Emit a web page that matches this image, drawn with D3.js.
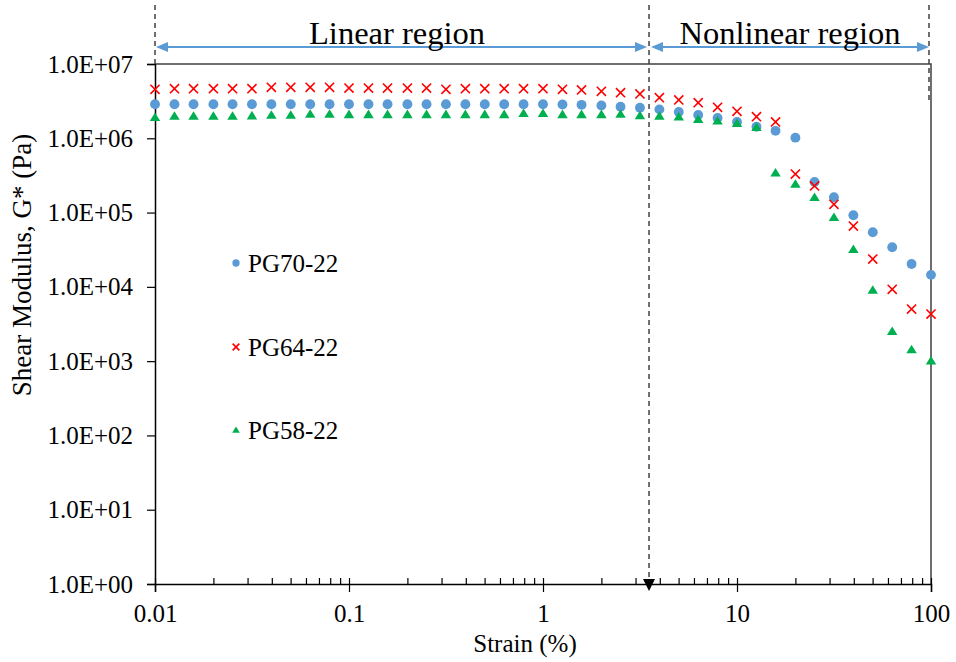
<!DOCTYPE html>
<html><head><meta charset="utf-8">
<script src="https://cdn.jsdelivr.net/npm/d3@7"></script>
<style>body{margin:0;background:#fff}svg{display:block}text{font-family:"Liberation Serif","Times New Roman",serif}</style>
</head><body><svg id="c" width="956" height="662"></svg>
<script>
const strain = [0.01,0.0126,0.0158,0.02,0.0251,0.0316,0.0398,0.0501,0.0631,0.0794,
 0.1,0.126,0.158,0.2,0.251,0.316,0.398,0.501,0.631,0.794,
 1,1.26,1.58,2,2.51,3.16,3.98,5.01,6.31,7.94,
 10,12.6,15.8,20,25.1,31.6,39.8,50.1,63.1,79.4,100];
const pg70 = [2.87e6,2.87e6,2.87e6,2.87e6,2.87e6,2.87e6,2.87e6,2.87e6,2.87e6,2.87e6,
 2.87e6,2.87e6,2.87e6,2.87e6,2.87e6,2.87e6,2.87e6,2.87e6,2.87e6,2.87e6,
 2.87e6,2.85e6,2.82e6,2.76e6,2.66e6,2.58e6,2.45e6,2.26e6,2.06e6,1.88e6,
 1.66e6,1.43e6,1.26e6,1.02e6,2.58e5,1.61e5,9.2e4,5.43e4,3.41e4,2.03e4,1.45e4];
const pg64 = [4.56e6,4.66e6,4.66e6,4.66e6,4.66e6,4.66e6,4.85e6,4.85e6,4.85e6,4.85e6,
 4.75e6,4.75e6,4.75e6,4.75e6,4.75e6,4.56e6,4.66e6,4.66e6,4.66e6,4.66e6,
 4.66e6,4.56e6,4.47e6,4.29e6,4.11e6,3.95e6,3.52e6,3.28e6,3.01e6,2.61e6,
 2.31e6,1.95e6,1.66e6,3.30e5,2.28e5,1.29e5,6.59e4,2.37e4,9.27e3,5.03e3,4.31e3];
const pg58 = [1.92e6,2.0e6,2.0e6,2.0e6,2.0e6,2.02e6,2.06e6,2.06e6,2.12e6,2.12e6,
 2.10e6,2.10e6,2.10e6,2.10e6,2.10e6,2.10e6,2.10e6,2.10e6,2.10e6,2.17e6,
 2.17e6,2.10e6,2.10e6,2.10e6,2.12e6,2.03e6,2.0e6,1.95e6,1.80e6,1.72e6,
 1.59e6,1.41e6,3.44e5,2.43e5,1.61e5,8.64e4,3.21e4,9.07e3,2.52e3,1.44e3,1.01e3];
const seriesNames = ["PG70-22","PG64-22","PG58-22"];
const seriesColors = ["#5B9BD5","#FF0000","#00B050"];
const xTicks = [0.01,0.1,1,10,100];
const xTickLabels = ["0.01","0.1","1","10","100"];
const yTicks = [1,10,100,1e3,1e4,1e5,1e6,1e7];
const yTickLabels = ["1.0E+00","1.0E+01","1.0E+02","1.0E+03","1.0E+04","1.0E+05","1.0E+06","1.0E+07"];
const regionBoundary = 3.52;
const regionLabels = ["Linear region","Nonlinear region"];

const svg = d3.select("#c");
const L=155,R=931,T=64,B=584;
const x = d3.scaleLog().domain([0.01,100]).range([L,R]);
const y = d3.scaleLog().domain([1,1e7]).range([B,T]);

// border top/right
svg.append("path").attr("d",`M${L},${T}H${R}V${B}`).attr("fill","none").attr("stroke","#404040").attr("stroke-width",1.5);

// y axis
const ya = svg.append("g").attr("transform",`translate(${L},0)`)
  .call(d3.axisLeft(y).tickValues(yTicks).tickFormat((d,i)=>yTickLabels[i]).tickSize(8).tickPadding(14));
ya.select(".domain").attr("stroke","#000").attr("stroke-width",1.5);
ya.selectAll(".tick line").attr("stroke","#000").attr("stroke-width",1.2);
ya.selectAll("text").attr("font-size",25).attr("fill","#000");

// x axis
const minor=[];
for(let d=0.01; d<100; d*=10){ for(let m=2;m<=9;m++) minor.push(d*m); }
const xm = svg.append("g").attr("transform",`translate(0,${B})`)
  .call(d3.axisBottom(x).tickValues(minor).tickFormat("").tickSizeInner(-6).tickSizeOuter(0));
xm.select(".domain").remove();
xm.selectAll(".tick line").attr("stroke","#000").attr("stroke-width",1.2);
const xa = svg.append("g").attr("transform",`translate(0,${B})`)
  .call(d3.axisBottom(x).tickValues(xTicks).tickFormat((d,i)=>xTickLabels[i]).tickSize(8).tickPadding(12));
xa.select(".domain").attr("stroke","#000").attr("stroke-width",1.5);
xa.selectAll(".tick line").attr("stroke","#000").attr("stroke-width",1.2).attr("y1",-6);
xa.selectAll("text").attr("font-size",25).attr("fill","#000");

// axis titles
svg.append("text").attr("x",(L+R)/2-18).attr("y",652).attr("text-anchor","middle").attr("font-size",25).text("Strain (%)");
svg.append("text").attr("transform","translate(31,265) rotate(-90)").attr("text-anchor","middle").attr("font-size",27).text("Shear Modulus, G* (Pa)");

// dashed region lines
const xb = x(regionBoundary);
svg.append("line").attr("x1",L).attr("x2",L).attr("y1",5).attr("y2",T).attr("stroke","#404040").attr("stroke-width",1.5).attr("stroke-dasharray","5,4");
svg.append("line").attr("x1",xb).attr("x2",xb).attr("y1",5).attr("y2",B-6).attr("stroke","#404040").attr("stroke-width",1.5).attr("stroke-dasharray","5,4");
svg.append("line").attr("x1",R-2).attr("x2",R-2).attr("y1",5).attr("y2",102).attr("stroke","#404040").attr("stroke-width",1.5).attr("stroke-dasharray","5,4");
svg.append("path").attr("d",`M${xb-6},${B-5}L${xb+6},${B-5}L${xb},${B+7}Z`).attr("fill","#000");

// region arrows
const ay=47;
function dblArrow(x1,x2){
  svg.append("line").attr("x1",x1+8).attr("x2",x2-8).attr("y1",ay).attr("y2",ay).attr("stroke","#5B9BD5").attr("stroke-width",2);
  svg.append("path").attr("d",`M${x1},${ay}L${x1+12},${ay-5}L${x1+12},${ay+5}Z`).attr("fill","#5B9BD5");
  svg.append("path").attr("d",`M${x2},${ay}L${x2-12},${ay-5}L${x2-12},${ay+5}Z`).attr("fill","#5B9BD5");
}
dblArrow(L+1,xb-2);
dblArrow(xb+2,R-2);
svg.append("text").attr("x",(L+xb)/2-5).attr("y",44).attr("text-anchor","middle").attr("font-size",32.5).text(regionLabels[0]);
svg.append("text").attr("x",(xb+R)/2).attr("y",44).attr("text-anchor","middle").attr("font-size",32.5).text(regionLabels[1]);

// markers
function marker(g,type,cx,cy,s,color){
  if(type===0) g.append("circle").attr("cx",cx).attr("cy",cy).attr("r",s*0.52).attr("fill",color);
  else if(type===1){ const h=s*0.48; g.append("path").attr("d",`M${cx-h},${cy-h}L${cx+h},${cy+h}M${cx-h},${cy+h}L${cx+h},${cy-h}`).attr("stroke",color).attr("stroke-width",1.6).attr("fill","none"); }
  else { const h=s*0.5; g.append("path").attr("d",`M${cx},${cy-h}L${cx+h*1.1},${cy+h*0.8}L${cx-h*1.1},${cy+h*0.8}Z`).attr("fill",color); }
}
const all=[pg70,pg64,pg58];
all.forEach((vals,si)=>{
  const g=svg.append("g");
  vals.forEach((v,i)=>marker(g,si,x(strain[i]),y(v),9.5,seriesColors[si]));
});

// legend
const legY=[263,347,430];
seriesNames.forEach((n,i)=>{
  const g=svg.append("g");
  marker(g,i,236,legY[i],7,seriesColors[i]);
  g.append("text").attr("x",248).attr("y",legY[i]+9).attr("font-size",25).text(n);
});
</script></body></html>
